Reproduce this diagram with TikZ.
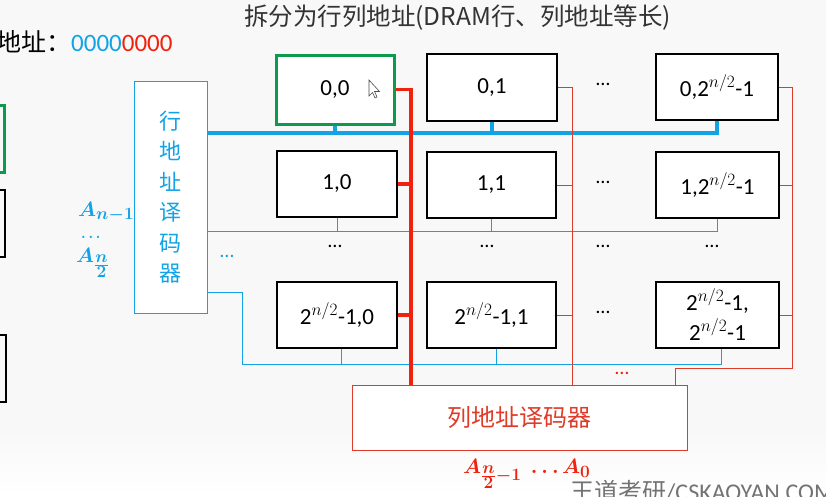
\documentclass[tikz,border=0pt]{standalone}
\usepackage{fontspec}
\usepackage{bm}
\setmainfont{Carlito}
\newfontfamily\cjk{Noto Sans CJK SC}
\DeclareMathSizes{22}{22}{17}{15}
\definecolor{cblue}{HTML}{12A3E6}
\definecolor{cred}{HTML}{F0220E}
\definecolor{cred2}{HTML}{E03A28}
\definecolor{cgreen}{HTML}{0E9A4E}
\definecolor{bg}{HTML}{F8F8F8}
\tikzset{
  cell/.style={draw=black, line width=1.1pt, fill=white, inner sep=0pt, font=\fontsize{23}{26}\selectfont, align=center},
  bluethick/.style={draw=cblue, line width=3.5pt},
  bluethin/.style={draw=cblue, line width=1pt},
  redthick/.style={draw=cred, line width=3.5pt},
  redthin/.style={draw=cred2, line width=1pt},
  dotsb/.style={font=\fontsize{20}{22}\selectfont, inner sep=0pt},
  mlabel/.style={inner sep=0pt, font=\fontsize{22}{24}\selectfont},
}
\begin{document}
\begin{tikzpicture}[x=1pt,y=-1pt]
\useasboundingbox (0,0) rectangle (826,496);
\clip (0,0) rectangle (826,496);
\fill[bg] (0,0) rectangle (826,496);
\shade[top color=bg, bottom color=white] (0,430) rectangle (826,496);

% partial boxes at left edge
\draw[cgreen, line width=3pt] (-50,105) rectangle (4,172);
\draw[black, line width=1.1pt] (-50,190) rectangle (5,257);
\draw[black, line width=1.1pt] (-50,335) rectangle (6,402);

% titles
\node[anchor=west, inner sep=0pt, font=\cjk\fontsize{24.5}{26}\selectfont, text=black!80] (title) at (244,18) {拆分为行列地址(DRAM行、列地址等长)};
\node[anchor=west, inner sep=0pt, font=\fontsize{25}{27}\selectfont] (addr) at (-4,42) {{\cjk 地址：}\textcolor{cblue}{0000}\textcolor{cred}{0000}};

% cells
\node[cell, draw=cgreen, line width=3pt, minimum width=118pt, minimum height=69pt] (b00) at (335,89.5) {0,0};
\node[cell, minimum width=130pt, minimum height=67pt] (b01) at (492,87.5) {0,1};
\node[cell, minimum width=122pt, minimum height=66pt] (b02) at (717,87) {0,2$^{n/2}$-1};
\node[cell, minimum width=120pt, minimum height=66pt] (b10) at (337,184) {1,0};
\node[cell, minimum width=129pt, minimum height=66pt] (b11) at (491.5,185) {1,1};
\node[cell, minimum width=123pt, minimum height=66pt] (b12) at (717.5,185) {1,2$^{n/2}$-1};
\node[cell, minimum width=120pt, minimum height=66pt] (b20) at (337,315) {2$^{n/2}$-1,0};
\node[cell, minimum width=129pt, minimum height=66pt] (b21) at (491.5,315) {2$^{n/2}$-1,1};
\node[cell, minimum width=123pt, minimum height=66pt, font=\fontsize{23}{30}\selectfont] (b22) at (717.5,315) {2$^{n/2}$-1,\\2$^{n/2}$-1};

% mouse pointer
\draw[black!70, fill=white, line width=0.6pt] (369,80) -- (369,96) -- (372.5,92.5) -- (375,98) -- (377,97) -- (374.5,91.5) -- (379.5,91.5) -- cycle;

% decoders
\node[draw=cblue, line width=1pt, fill=white, minimum width=73pt, minimum height=232pt, inner sep=0pt, align=center, text=cblue, font=\cjk\fontsize{22}{30.5}\selectfont] (rowdec) at (170.5,197) {行\\地\\址\\译\\码\\器};
\node[draw=cred2, line width=1pt, fill=white, minimum width=335pt, minimum height=65pt, inner sep=0pt, text=cred2, font=\cjk\fontsize{24}{26}\selectfont] (coldec) at (519.5,417.5) {列地址译码器};

% row lines (blue)
\coordinate (w0) at (207,133);
\coordinate (w1) at (207,231);
\coordinate (w2) at (207,292);
\coordinate (w2a) at (242,292);
\coordinate (w2b) at (242,364);
\draw[bluethick] (w0) -| (b02.south);
\draw[bluethick] (b00.south) -- (b00.south |- w0);
\draw[bluethick] (b01.south) -- (b01.south |- w0);
\draw[bluethin] (w1) -| (b12.south);
\draw[bluethin] (b10.south) -- (b10.south |- w1);
\draw[bluethin] (b11.south) -- (b11.south |- w1);
\draw[bluethin] (w2) -- (w2a) -- (w2b) -| ([xshift=4pt]b22.south);
\draw[bluethin] ([xshift=4pt]b20.south) -- ([xshift=4pt]b20.south |- w2b);
\draw[bluethin] ([xshift=5pt]b21.south) -- ([xshift=5pt]b21.south |- w2b);

% column lines (red)
\coordinate (c0) at (411,385);
\coordinate (c1) at (572,385);
\coordinate (c2) at (675,385);
\coordinate (c2a) at (792,368);
\draw[redthick] (b00.east) -| (c0);
\draw[redthick] (b10.east) -- (b10.east -| c0);
\draw[redthick] (b20.east) -- (b20.east -| c0);
\draw[redthin] (b01.east) -| (c1);
\draw[redthin] (b11.east) -- (b11.east -| c1);
\draw[redthin] (b21.east) -- (b21.east -| c1);
\draw[redthin] (b02.east) -| (c2a) -| (c2);
\draw[redthin] (b12.east) -- (b12.east -| c2a);
\draw[redthin] (b22.east) -- (b22.east -| c2a);

% dots
\node[dotsb] (d0) at (603,84) {…};
\node[dotsb] (d1) at (603,182) {…};
\node[dotsb] (d2) at (603,312) {…};
\node[dotsb] (m0) at (335,246) {…};
\node[dotsb] (m1) at (487,246) {…};
\node[dotsb] (m2) at (603,246) {…};
\node[dotsb] (m3) at (712,246) {…};
\node[dotsb, text=cblue] (bd) at (227,256) {…};
\node[dotsb, text=cred] (rd) at (622,373) {…};

% address labels
\node[mlabel, anchor=base west, text=cblue] (an1) at (78,216) {$\bm{A_{n-1}}$};
\node[mlabel, anchor=base west, text=cblue, font=\fontsize{14}{16}\selectfont] (and) at (81,238) {$\bm{\ldots}$};
\node[mlabel, anchor=base west, text=cblue] (an2) at (76,262) {$\bm{A_{\frac{\scriptstyle n}{\scriptstyle 2}}}$};
\node[mlabel, anchor=base west, text=cred] (acol) at (463,473) {$\bm{A_{\frac{\scriptstyle n}{\scriptstyle 2}-1}\;\ldots A_0}$};

% watermark
\node[anchor=north west, inner sep=0pt, text=black!55, font=\fontsize{24}{26}\selectfont] (wm) at (570,480) {{\cjk 王道考研}/CSKAOYAN.COM};
\end{tikzpicture}
\end{document}
